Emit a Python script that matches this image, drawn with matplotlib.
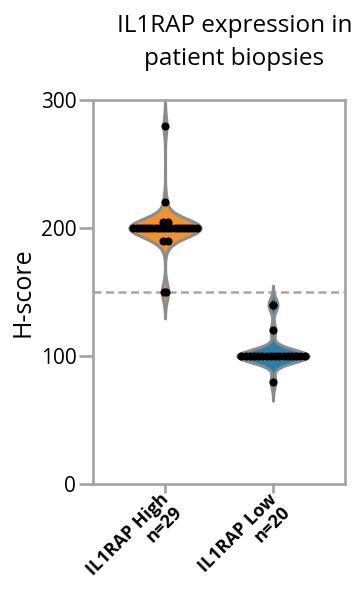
import numpy as np
import matplotlib.pyplot as plt
from matplotlib.transforms import ScaledTranslation

# data
groups = ["IL1RAP High\nn=29", "IL1RAP Low\nn=20"]
high_vals = [280, 220, 205, 205] + [200] * 21 + [190, 190, 150, 150]
low_vals = [140, 140, 120] + [100] * 16 + [80]
colors = ["#F0922F", "#2E7FA3"]
cutoff = 150

plt.rcParams["font.family"] = ["Open Sans", "DejaVu Sans"]


def kde(vals, adjust=0.65, cut=3, npts=600):
    vals = np.asarray(vals, float)
    bw = adjust * vals.std(ddof=1) * len(vals) ** (-1 / 5)
    y = np.linspace(vals.min() - cut * bw, vals.max() + cut * bw, npts)
    d = np.exp(-0.5 * ((y[:, None] - vals[None, :]) / bw) ** 2).sum(axis=1)
    return y, d / d.max()


fig = plt.figure(figsize=(3.61, 5.92), dpi=100)
ax = fig.add_axes([93 / 361, 1 - 484 / 592, 252 / 361, 384 / 592])

half = 0.33
px = 1 / 108.0  # x data units per pixel
data = [high_vals, low_vals]
for pos, (vals, c) in enumerate(zip(data, colors)):
    y, d = kde(vals)
    ax.fill_betweenx(y, pos - half * d, pos + half * d, facecolor=c,
                     edgecolor="#8c8c8c", linewidth=2.2, zorder=2)
    vals = np.array(vals)
    for v in np.unique(vals):
        n = (vals == v).sum()
        hw = half * np.interp(v, y, d)
        step = 5 * px
        if n > 1:
            step = min(step, (2 * hw - 8 * px) / (n - 1))
        xs = pos + (np.arange(n) - (n - 1) / 2) * step
        ax.scatter(xs, [v] * n, s=34, color="black", zorder=3, linewidths=0)

ax.axhline(cutoff, color="#a6a6a6", ls=(0, (3.2, 1.8)), lw=1.8, zorder=1)

ax.set_xlim(-0.667, 1.667)
ax.set_ylim(0, 300)
ax.set_yticks([0, 100, 200, 300])
ax.set_xticks([0, 1])
ax.set_xticklabels([])
lab_trans = ax.get_xaxis_transform() + ScaledTranslation(8 / 100, -19 / 100, fig.dpi_scale_trans)
for pos, g in enumerate(groups):
    ax.text(pos, 0, g, transform=lab_trans, rotation=45, ha="right", va="center",
            rotation_mode="anchor", fontweight="bold", fontsize=13,
            multialignment="right", linespacing=1.05)
ax.tick_params(axis="y", labelsize=15, color="#a6a6a6", width=2, length=10, pad=2)
ax.tick_params(axis="x", color="#a6a6a6", width=2, length=6.5, pad=2)
for s in ax.spines.values():
    s.set_color("#a6a6a6")
    s.set_linewidth(2)
ax.set_ylabel("H-score", fontsize=18, labelpad=4)

fig.text(235 / 361, 1 - 32 / 592, "IL1RAP expression in",
         ha="center", va="baseline", fontsize=17.5)
fig.text(234 / 361, 1 - 65 / 592, "patient biopsies",
         ha="center", va="baseline", fontsize=17.5)

fig.savefig("out.png", dpi=100)
